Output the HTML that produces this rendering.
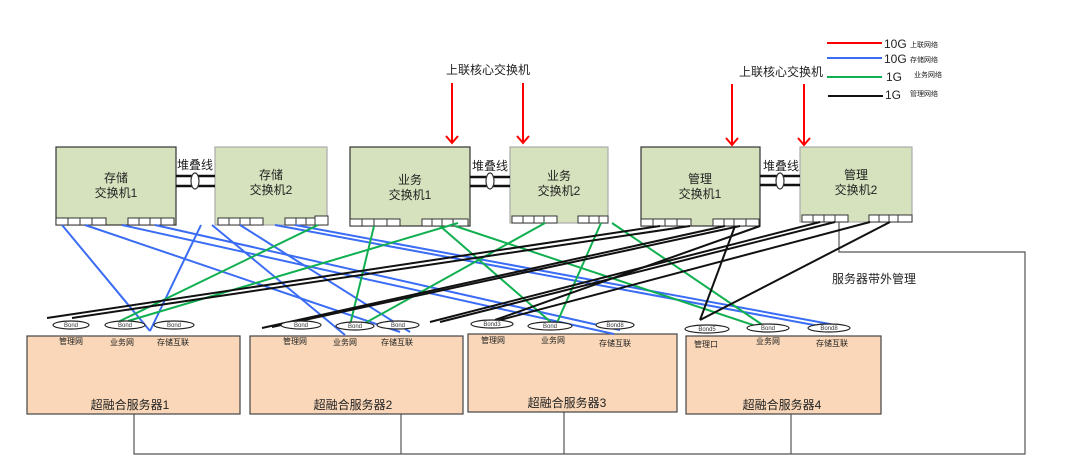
<!DOCTYPE html>
<html><head><meta charset="utf-8"><style>
html,body{margin:0;padding:0;background:#fff;}
svg{display:block;font-family:"Liberation Sans","Noto Sans CJK SC",sans-serif;}
</style></head><body>
<svg width="1080" height="462" viewBox="0 0 1080 462" xmlns="http://www.w3.org/2000/svg">
<rect width="1080" height="462" fill="#fff"/>

<!-- legend -->
<g font-size="12" fill="#222">
<line x1="827" y1="43" x2="882" y2="43" stroke="#f00" stroke-width="2"/><text x="884" y="48">10G</text><text x="910" y="47" font-size="7">上联网络</text>
<line x1="827" y1="58" x2="882" y2="58" stroke="#3a6cf4" stroke-width="2"/><text x="884" y="63">10G</text><text x="910" y="62" font-size="7">存储网络</text>
<line x1="827" y1="77" x2="882" y2="77" stroke="#10b050" stroke-width="2"/><text x="886" y="81">1G</text><text x="914" y="77" font-size="7">业务网络</text>
<line x1="828" y1="96" x2="883" y2="96" stroke="#111" stroke-width="2"/><text x="885" y="99">1G</text><text x="910" y="96" font-size="7">管理网络</text>
</g>

<!-- uplink arrows -->
<g font-size="12" fill="#222">
<text x="446" y="74">上联核心交换机</text>
<text x="739" y="76">上联核心交换机</text>
</g>
<g stroke="#f00" stroke-width="2" fill="none">
<line x1="452" y1="83" x2="452" y2="143"/><polyline points="446,136 452,143 458,136"/>
<line x1="523" y1="83" x2="523" y2="143"/><polyline points="517,136 523,143 529,136"/>
<line x1="732" y1="84" x2="732" y2="145"/><polyline points="726,138 732,145 738,138"/>
<line x1="804" y1="84" x2="804" y2="145"/><polyline points="798,138 804,145 810,138"/>
</g>

<!-- OOB management -->
<g stroke="#555" stroke-width="1.2" fill="none">
<polyline points="839,222 839,252 1025,252 1025,454 134,454 134,414"/>
<line x1="401" y1="414" x2="401" y2="454"/>
<line x1="564" y1="412" x2="564" y2="454"/>
<line x1="791" y1="414" x2="791" y2="454"/>
</g>
<text x="832" y="283" font-size="12" fill="#222">服务器带外管理</text>

<!-- switches -->
<g stroke="#333" stroke-width="1.2" fill="#d6e2bd">
<rect x="56" y="147" width="120" height="78"/>
<rect x="215" y="147" width="112" height="78" stroke="#aaa"/>
<rect x="350" y="147" width="120" height="79"/>
<rect x="510" y="147" width="98" height="76" stroke="#aaa"/>
<rect x="641" y="147" width="119" height="79"/>
<rect x="800" y="147" width="112" height="75" stroke="#aaa"/>
</g>
<!-- ports -->
<g stroke="#333" stroke-width="1" fill="#fff">
<rect x="56" y="218" width="12" height="7"/><rect x="68" y="218" width="12" height="7"/><rect x="80" y="218" width="12" height="7"/><rect x="92" y="218" width="14" height="7"/>
<rect x="128" y="218" width="11" height="7"/><rect x="139" y="218" width="11" height="7"/><rect x="150" y="218" width="11" height="7"/><rect x="161" y="218" width="13" height="7"/>
<rect x="218" y="218" width="11" height="7"/><rect x="229" y="218" width="11" height="7"/><rect x="240" y="218" width="10" height="7"/><rect x="250" y="218" width="13" height="7"/>
<rect x="285" y="218" width="11" height="7"/><rect x="296" y="218" width="10" height="7"/><rect x="306" y="218" width="9" height="7"/><rect x="315" y="216" width="13" height="9"/>
<rect x="350" y="219" width="12" height="7"/><rect x="362" y="219" width="12" height="7"/><rect x="374" y="219" width="13" height="7"/><rect x="387" y="219" width="13" height="7"/>
<rect x="422" y="219" width="10" height="7"/><rect x="432" y="219" width="10" height="7"/><rect x="442" y="219" width="11" height="7"/><rect x="453" y="219" width="15" height="7"/>
<rect x="512" y="216" width="11" height="7"/><rect x="523" y="216" width="11" height="7"/><rect x="534" y="216" width="10" height="7"/><rect x="544" y="216" width="13" height="7"/>
<rect x="578" y="216" width="11" height="7"/><rect x="589" y="216" width="10" height="7"/><rect x="599" y="216" width="9" height="7"/>
<rect x="641" y="219" width="12" height="7"/><rect x="653" y="219" width="12" height="7"/><rect x="665" y="219" width="12" height="7"/><rect x="677" y="219" width="14" height="7"/>
<rect x="713" y="219" width="11" height="7"/><rect x="724" y="219" width="10" height="7"/><rect x="734" y="219" width="12" height="7"/><rect x="746" y="219" width="13" height="7"/>
<rect x="802" y="215" width="11" height="7"/><rect x="813" y="215" width="11" height="7"/><rect x="824" y="215" width="11" height="7"/><rect x="835" y="215" width="13" height="7"/>
<rect x="869" y="215" width="10" height="7"/><rect x="879" y="215" width="10" height="7"/><rect x="889" y="215" width="9" height="7"/><rect x="898" y="215" width="14" height="7"/>
</g>
<g font-size="12" fill="#222" text-anchor="middle">
<text x="116" y="182">存储</text><text x="116" y="197">交换机1</text>
<text x="271" y="179">存储</text><text x="271" y="194">交换机2</text>
<text x="410" y="184">业务</text><text x="410" y="199">交换机1</text>
<text x="559" y="180">业务</text><text x="559" y="195">交换机2</text>
<text x="700" y="183">管理</text><text x="700" y="198">交换机1</text>
<text x="856" y="179">管理</text><text x="856" y="194">交换机2</text>
<text x="195" y="169">堆叠线</text><text x="490" y="170">堆叠线</text><text x="781" y="170">堆叠线</text>
</g>
<!-- stack lines -->
<g stroke="#111" stroke-width="2.5">
<line x1="176" y1="176" x2="215" y2="176"/><line x1="176" y1="186" x2="215" y2="186"/>
<line x1="470" y1="177" x2="510" y2="177"/><line x1="470" y1="186" x2="510" y2="186"/>
<line x1="760" y1="176" x2="800" y2="176"/><line x1="760" y1="185" x2="800" y2="185"/>
</g>
<g fill="#fff" stroke="#333" stroke-width="1.2">
<ellipse cx="195" cy="181" rx="4" ry="8"/><ellipse cx="490" cy="181" rx="4" ry="8"/><ellipse cx="780" cy="181" rx="4" ry="8"/>
</g>

<!-- servers -->
<g stroke="#444" stroke-width="1.2" fill="#f9d7b8">
<rect x="27" y="336" width="213" height="78"/>
<rect x="250" y="336" width="213" height="78"/>
<rect x="468" y="334" width="209" height="78"/>
<rect x="686" y="336" width="195" height="78"/>
</g>
<g font-size="12" fill="#222" text-anchor="middle">
<text x="130" y="409">超融合服务器1</text>
<text x="353" y="409">超融合服务器2</text>
<text x="567" y="407">超融合服务器3</text>
<text x="782" y="409">超融合服务器4</text>
</g>
<g font-size="8" fill="#222" text-anchor="middle">
<text x="71" y="344">管理网</text><text x="122" y="345">业务网</text><text x="173" y="345">存储互联</text>
<text x="295" y="344">管理网</text><text x="345" y="345">业务网</text><text x="397" y="345">存储互联</text>
<text x="493" y="343">管理网</text><text x="553" y="343">业务网</text><text x="615" y="346">存储互联</text>
<text x="706" y="347">管理口</text><text x="768" y="344">业务网</text><text x="832" y="346">存储互联</text>
</g>

<!-- connectors -->
<g stroke="#3a6cf4" stroke-width="2" fill="none">
<line x1="62" y1="225" x2="150" y2="331"/>
<line x1="201" y1="225" x2="150" y2="331"/>
<line x1="85" y1="225" x2="400" y2="332"/>
<line x1="212" y1="225" x2="345" y2="335"/>
<line x1="122" y1="225" x2="614" y2="334"/>
<line x1="155" y1="225" x2="620" y2="330"/>
<line x1="240" y1="225" x2="410" y2="332"/>
<line x1="275" y1="225" x2="830" y2="328"/>
<line x1="295" y1="225" x2="835" y2="325"/>
</g>
<g stroke="#10b050" stroke-width="2" fill="none">
<line x1="318" y1="225" x2="118" y2="322"/>
<line x1="458" y1="223" x2="128" y2="321"/>
<line x1="374" y1="226" x2="350" y2="325"/>
<line x1="545" y1="223" x2="358" y2="327"/>
<line x1="440" y1="226" x2="553" y2="324"/>
<line x1="601" y1="223" x2="556" y2="325"/>
<line x1="455" y1="226" x2="768" y2="330"/>
<line x1="612" y1="223" x2="770" y2="330"/>
</g>
<g stroke="#111" stroke-width="2" fill="none">
<line x1="660" y1="226" x2="47" y2="318"/>
<line x1="690" y1="226" x2="72" y2="318"/>
<line x1="725" y1="226" x2="262" y2="328"/>
<line x1="740" y1="226" x2="272" y2="327"/>
<line x1="820" y1="222" x2="430" y2="322"/>
<line x1="835" y1="222" x2="440" y2="322"/>
<line x1="735" y1="226" x2="700" y2="320"/>
<line x1="890" y1="222" x2="700" y2="320"/>
<line x1="760" y1="226" x2="495" y2="320"/>
<line x1="870" y1="222" x2="500" y2="320"/>
</g>

<!-- bonds -->
<g fill="#fff" stroke="#222" stroke-width="1.2">
<ellipse cx="71" cy="325" rx="18" ry="4"/><ellipse cx="125" cy="325" rx="20" ry="4"/><ellipse cx="174" cy="325" rx="20" ry="4"/>
<ellipse cx="301" cy="325" rx="20" ry="4"/><ellipse cx="355" cy="326" rx="19" ry="4"/><ellipse cx="398" cy="325" rx="21" ry="4"/>
<ellipse cx="492" cy="324" rx="21" ry="4"/><ellipse cx="550" cy="326" rx="22" ry="4"/><ellipse cx="615" cy="325" rx="19" ry="4"/>
<ellipse cx="707" cy="329" rx="22" ry="4"/><ellipse cx="768" cy="328" rx="21" ry="4"/><ellipse cx="829" cy="328" rx="21" ry="4"/>
</g>
<g font-size="6" fill="#333" text-anchor="middle">
<text x="71" y="327">Bond</text><text x="125" y="327">Bond</text><text x="174" y="327">Bond</text>
<text x="301" y="327">Bond</text><text x="355" y="328">Bond</text><text x="398" y="327">Bond</text>
<text x="492" y="326">Bond3</text><text x="550" y="328">Bond</text><text x="615" y="327">Bond8</text>
<text x="707" y="331">Bond5</text><text x="768" y="330">Bond</text><text x="829" y="330">Bond8</text>
</g>
</svg>
</body></html>
